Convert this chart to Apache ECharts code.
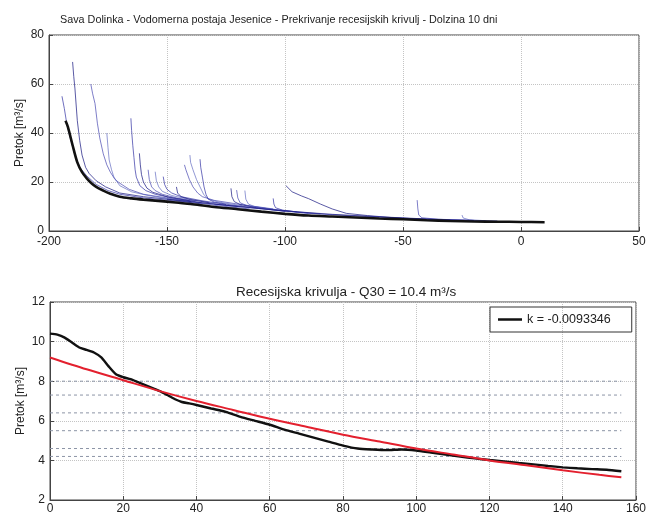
<!DOCTYPE html>
<html><head><meta charset="utf-8">
<script src="https://cdn.jsdelivr.net/npm/echarts@6/dist/echarts.min.js"></script>
<style>html,body{margin:0;padding:0;background:#fff}#c{width:649px;height:517px}</style>
</head><body><div id="c"></div><script>
// ---------- data ----------
const topTitle = "Sava Dolinka - Vodomerna postaja Jesenice - Prekrivanje recesijskih krivulj - Dolzina 10 dni";
const bottomTitle = "Recesijska krivulja - Q30 = 10.4 m³/s";
const yName = "Pretok [m³/s]";
const legendName = "k = -0.0093346";

// top panel: master recession curve (black)
const masterX = [-193,-192,-190,-188,-186,-184,-182,-180,-177,-174,-170,-165,-160,-155,-150,-145,-140,-130,-120,-110,-100,-90,-80,-70,-60,-50,-40,-30,-20,-10,0,10];
const masterY = [45,42.5,35,28,24,21.5,19.5,18,16.5,15.2,14,13.3,12.8,12.4,12,11.5,11,9.8,8.9,7.9,7.0,6.3,5.9,5.5,5.1,4.8,4.4,4.1,3.9,3.8,3.7,3.6];

// top panel: individual recession segments (blue), [x, Q] pairs
const blueCurves = [
  [[-194.5,55],[-193.5,50],[-192.5,44],[-191,38],[-189,31],[-187,26],[-184,22.5],[-180,19],[-175,16.5],[-170,15],[-160,13.5],[-150,12.6],[-140,11.6]],
  [[-190,69],[-189.5,63],[-189,58],[-188,45],[-187,37],[-186,31],[-184.5,26],[-183,23.5],[-180,20.5],[-176,18],[-170,15.5],[-160,14],[-150,13],[-135,11]],
  [[-182.3,60],[-181.5,56],[-180.5,52],[-179.5,44],[-178.5,38],[-177,31.5],[-175.5,27],[-174,24],[-172,21],[-170,19.5],[-166,17],[-160,15],[-150,13.5],[-130,10.5],[-115,9]],
  [[-175.5,40],[-175,34],[-174.5,29],[-173.5,25],[-172.5,22],[-170,18.5],[-165,16],[-158,14.5],[-150,13.2],[-140,12]],
  [[-165.3,46],[-165,41],[-164.5,35],[-164,30],[-163.5,25],[-163,22],[-161.5,18.5],[-159,16.5],[-155,15],[-148,13.5],[-135,11.5],[-120,10]],
  [[-161.7,31.7],[-161.3,27],[-160.8,23],[-160,20],[-158.5,17.5],[-156,15.8],[-150,14],[-140,12.3]],
  [[-158,25],[-157.5,21],[-156.5,18],[-155,16.5],[-152,15],[-146,13.5],[-138,12.2]],
  [[-155,24.2],[-154.5,20.5],[-153.5,18],[-152,16.2],[-148,14.5],[-142,13.2],[-130,11.3]],
  [[-151.6,22.2],[-151,19],[-150,17],[-148,15.5],[-144,14],[-136,12.5],[-125,10.8]],
  [[-146,18],[-145.5,15.5],[-144,14],[-140,12.8],[-132,11.5]],
  [[-142.6,27],[-142,25],[-140.5,21],[-139,18],[-137,15.5],[-135,14],[-130,12.5],[-120,11],[-105,9]],
  [[-140.3,31],[-140,28],[-139,25],[-137.5,21],[-136,18],[-134.5,15],[-132.5,13],[-128,11.8],[-118,10.3]],
  [[-136,29.3],[-135.7,26],[-135,22],[-134.3,18],[-133.5,15],[-132.5,13],[-130,11.8],[-122,10.5],[-110,9.2]],
  [[-122.9,17.4],[-122.5,14],[-121.5,12],[-119,10.8],[-112,9.5],[-100,8]],
  [[-120.5,16.7],[-120,13.5],[-119,11.5],[-116,10.3],[-108,9.2],[-95,7.8]],
  [[-117,16.5],[-116.6,13],[-115.5,11],[-113,10],[-105,8.8],[-90,7.2]],
  [[-105,13.3],[-104.7,11],[-104,9.5],[-101,8.5],[-95,7.8],[-85,7]],
  [[-99.6,18.5],[-97,16],[-93,14.3],[-90,13.2],[-85,11],[-80,9],[-74,7.2],[-65,6.3],[-55,5.5],[-45,5],[-35,4.6]],
  [[-44,12.6],[-43.7,9],[-43.3,6.5],[-42,5.4],[-35,4.8],[-20,4.3]],
  [[-25,6.5],[-24.5,5.3],[-22,4.6],[-15,4.2]],
  [[-130,11],[-110,9],[-90,7.2],[-70,6.1],[-50,5.2],[-30,4.5],[-10,4.1]],
  [[-150,13],[-125,10.5],[-100,8.2],[-80,6.8],[-60,5.8],[-40,4.9],[-20,4.3]]
];

// bottom panel: mean recession curve (black) and fitted curve (red)
const recX = [0,2,4,6,8,10,12,14,16,18,20,22,24,26,28,30,32,34,36,38,40,44,48,52,56,60,64,68,72,76,80,84,88,92,96,100,104,108,112,116,120,124,128,132,136,140,144,148,152,156];
const recY = [10.4,10.35,10.2,9.95,9.7,9.58,9.45,9.2,8.75,8.35,8.2,8.1,7.95,7.8,7.65,7.5,7.3,7.1,6.95,6.88,6.8,6.62,6.45,6.2,6.0,5.8,5.55,5.35,5.15,4.95,4.75,4.6,4.55,4.52,4.55,4.5,4.4,4.3,4.2,4.1,4.02,3.95,3.87,3.8,3.72,3.65,3.6,3.56,3.53,3.45];
const fitX = [0,10,20,30,40,50,60,70,80,90,100,110,120,130,140,150,156];
const fitY = [9.2,8.6,8.05,7.5,7.0,6.55,6.1,5.7,5.3,4.95,4.6,4.3,4.0,3.75,3.5,3.27,3.15];

// bottom panel: horizontal dashed reference levels
const levelValues = [8.0,7.3,6.4,5.5,4.6,4.2];
const levelSpan = [0,156];

// ---------- styles ----------
const FONT = "'Liberation Sans', Arial, sans-serif";
const blueColors = ['rgba(40,40,160,0.75)','rgba(25,25,130,0.8)','rgba(55,55,170,0.72)','rgba(75,85,185,0.68)'];
const gridLine = {show:true, lineStyle:{color:'#c4c4c4', type:'dotted', width:1}};
const axLabel = {color:'#222', fontSize:12, fontFamily:FONT};
function xAx(idx,min,max,intv,margin){return {type:'value',gridIndex:idx,min,max,interval:intv,
  axisLine:{show:true,onZero:false,lineStyle:{color:'#444'}},axisTick:{show:true,inside:true,length:4,lineStyle:{color:'#444'}},
  axisLabel:Object.assign({margin},axLabel),splitLine:gridLine};}
function yAx(idx,min,max,intv){return {type:'value',gridIndex:idx,min,max,interval:intv,
  name:yName,nameLocation:'middle',nameGap:23,nameRotate:90,nameMoveOverlap:false,nameTextStyle:{color:'#222',fontSize:12,fontFamily:FONT},
  axisLine:{show:true,onZero:false,lineStyle:{color:'#444'}},axisTick:{show:true,inside:true,length:4,lineStyle:{color:'#444'}},
  axisLabel:Object.assign({margin:5},axLabel),splitLine:gridLine};}

const series = [];
blueCurves.forEach((c,i)=>{
  series.push({type:'line',xAxisIndex:0,yAxisIndex:0,data:c,symbol:'none',silent:true,
    lineStyle:{color:blueColors[i%blueColors.length],width:0.9},z:2});
});
series.push({type:'line',xAxisIndex:0,yAxisIndex:0,data:masterX.map((x,i)=>[x,masterY[i]]),symbol:'none',smooth:0.3,
  lineStyle:{color:'#111',width:2.6},z:5});
levelValues.forEach(v=>{
  series.push({type:'line',xAxisIndex:1,yAxisIndex:1,data:[[levelSpan[0],v],[levelSpan[1],v]],symbol:'none',
    lineStyle:{color:'#8c94a6',width:1,type:[3,3]},z:2});
});
series.push({name:legendName,type:'line',xAxisIndex:1,yAxisIndex:1,data:recX.map((x,i)=>[x,recY[i]]),symbol:'none',smooth:0.2,
  lineStyle:{color:'#111',width:2.4},itemStyle:{color:'#111'},z:4});
series.push({type:'line',xAxisIndex:1,yAxisIndex:1,data:fitX.map((x,i)=>[x,fitY[i]]),symbol:'none',smooth:0.3,
  lineStyle:{color:'#e3202e',width:2},z:5});

const chart = echarts.init(document.getElementById('c'),null,{renderer:'canvas'});
chart.setOption({
  animation:false,
  backgroundColor:'#fff',
  title:[
    {text:topTitle,left:55,top:10,textStyle:{fontSize:10.8,fontWeight:'normal',color:'#222',fontFamily:FONT}},
    {text:bottomTitle,left:231,top:280,textStyle:{fontSize:13.5,fontWeight:'normal',color:'#222',fontFamily:FONT}}
  ],
  legend:{data:[{name:legendName,icon:'rect'}],left:490,top:307,orient:'horizontal',borderColor:'#333',borderWidth:1,padding:[6,21,6,8],
    itemWidth:24,itemHeight:2.5,itemGap:8,textStyle:{fontSize:12.5,color:'#222',fontFamily:FONT},selectedMode:false},
  grid:[
    {left:49,right:10,top:35,height:196,show:true,borderColor:'#444',borderWidth:1,backgroundColor:'transparent'},
    {left:50,right:10,top:302,height:198,show:true,borderColor:'#444',borderWidth:1,backgroundColor:'transparent'}
  ],
  xAxis:[xAx(0,-200,50,50,5),xAx(1,0,160,20,3)],
  yAxis:[yAx(0,0,80,20),yAx(1,2,12,2)],
  series
});
</script></body></html>
